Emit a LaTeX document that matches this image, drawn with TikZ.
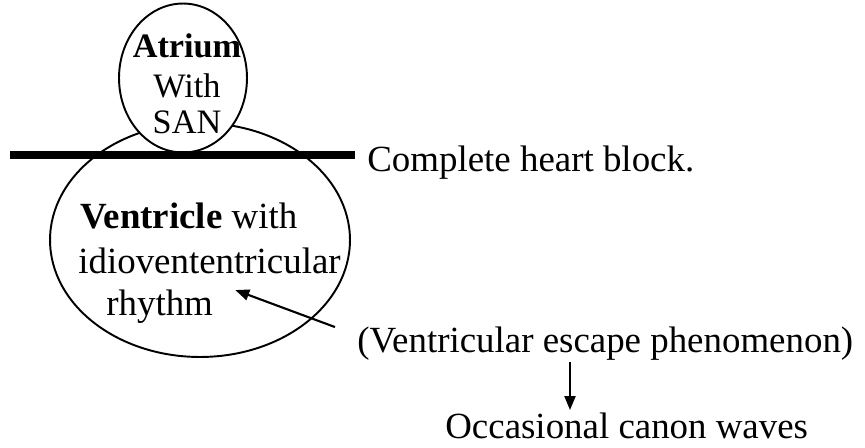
\documentclass[tikz,border=0pt]{standalone}
\usepackage{fontspec}
\setmainfont{Liberation Serif}
\usepackage{tikz}
\usetikzlibrary{arrows.meta, calc, positioning, shapes.geometric}

\begin{document}
\begin{tikzpicture}[x=0.02cm, y=-0.02cm, >={Triangle[length=0.28cm, width=0.22cm]},
  chamber/.style={draw, ellipse, line width=1.1pt, inner sep=0pt},
  lbl/.style={inner sep=0pt, font=\fontsize{21}{25}\selectfont},
  small lbl/.style={inner sep=0pt, font=\fontsize{19.5}{23}\selectfont},
  blockbar/.style={line width=0.16cm},
  pointer/.style={->, line width=1.2pt}]
  \useasboundingbox (0,0) rectangle (865,447);
  \node[chamber, minimum width=6cm, minimum height=4.68cm] (ventricle) at (200,240) {};
  \node[chamber, fill=white, minimum width=2.56cm, minimum height=2.98cm] (atrium) at (183,78) {};
  \node[small lbl, anchor=base, font=\fontsize{19.5}{23}\selectfont\bfseries] (atr) at (187,57) {Atrium};
  \node[small lbl, anchor=base] (with) at (187,97) {With};
  \node[small lbl, anchor=base] (san) at (187,133) {SAN};
  \node[lbl, anchor=base west] (block) at (367,171) {Complete heart block.};
  \coordinate (barL) at (10,155);
  \draw[blockbar] (barL) -- ($(block.west |- barL)+(-12,0)$);
  \node[lbl, anchor=base west] (vent) at (80,228) {\textbf{Ventricle} with};
  \node[lbl, anchor=base west] (idio) at (78,273) {idiovententricular};
  \node[lbl, anchor=base west] (rhythm) at (106,315) {rhythm};
  \node[lbl, anchor=base west] (esc) at (357,352) {(Ventricular escape phenomenon)};
  \node[lbl, anchor=base west] (occ) at (445,438) {Occasional canon waves};
  \coordinate (escTail) at ($(esc.north west)+(-22,1)$);
  \coordinate (rhyTip) at ($(rhythm.north east)+(22,1)$);
  \draw[pointer] (escTail) -- (rhyTip);
  \coordinate (arrX) at (570,0);
  \draw[pointer] ($(esc.south -| arrX)+(0,2)$) -- ($(occ.north -| arrX)+(0,-2)$);
\end{tikzpicture}
\end{document}
